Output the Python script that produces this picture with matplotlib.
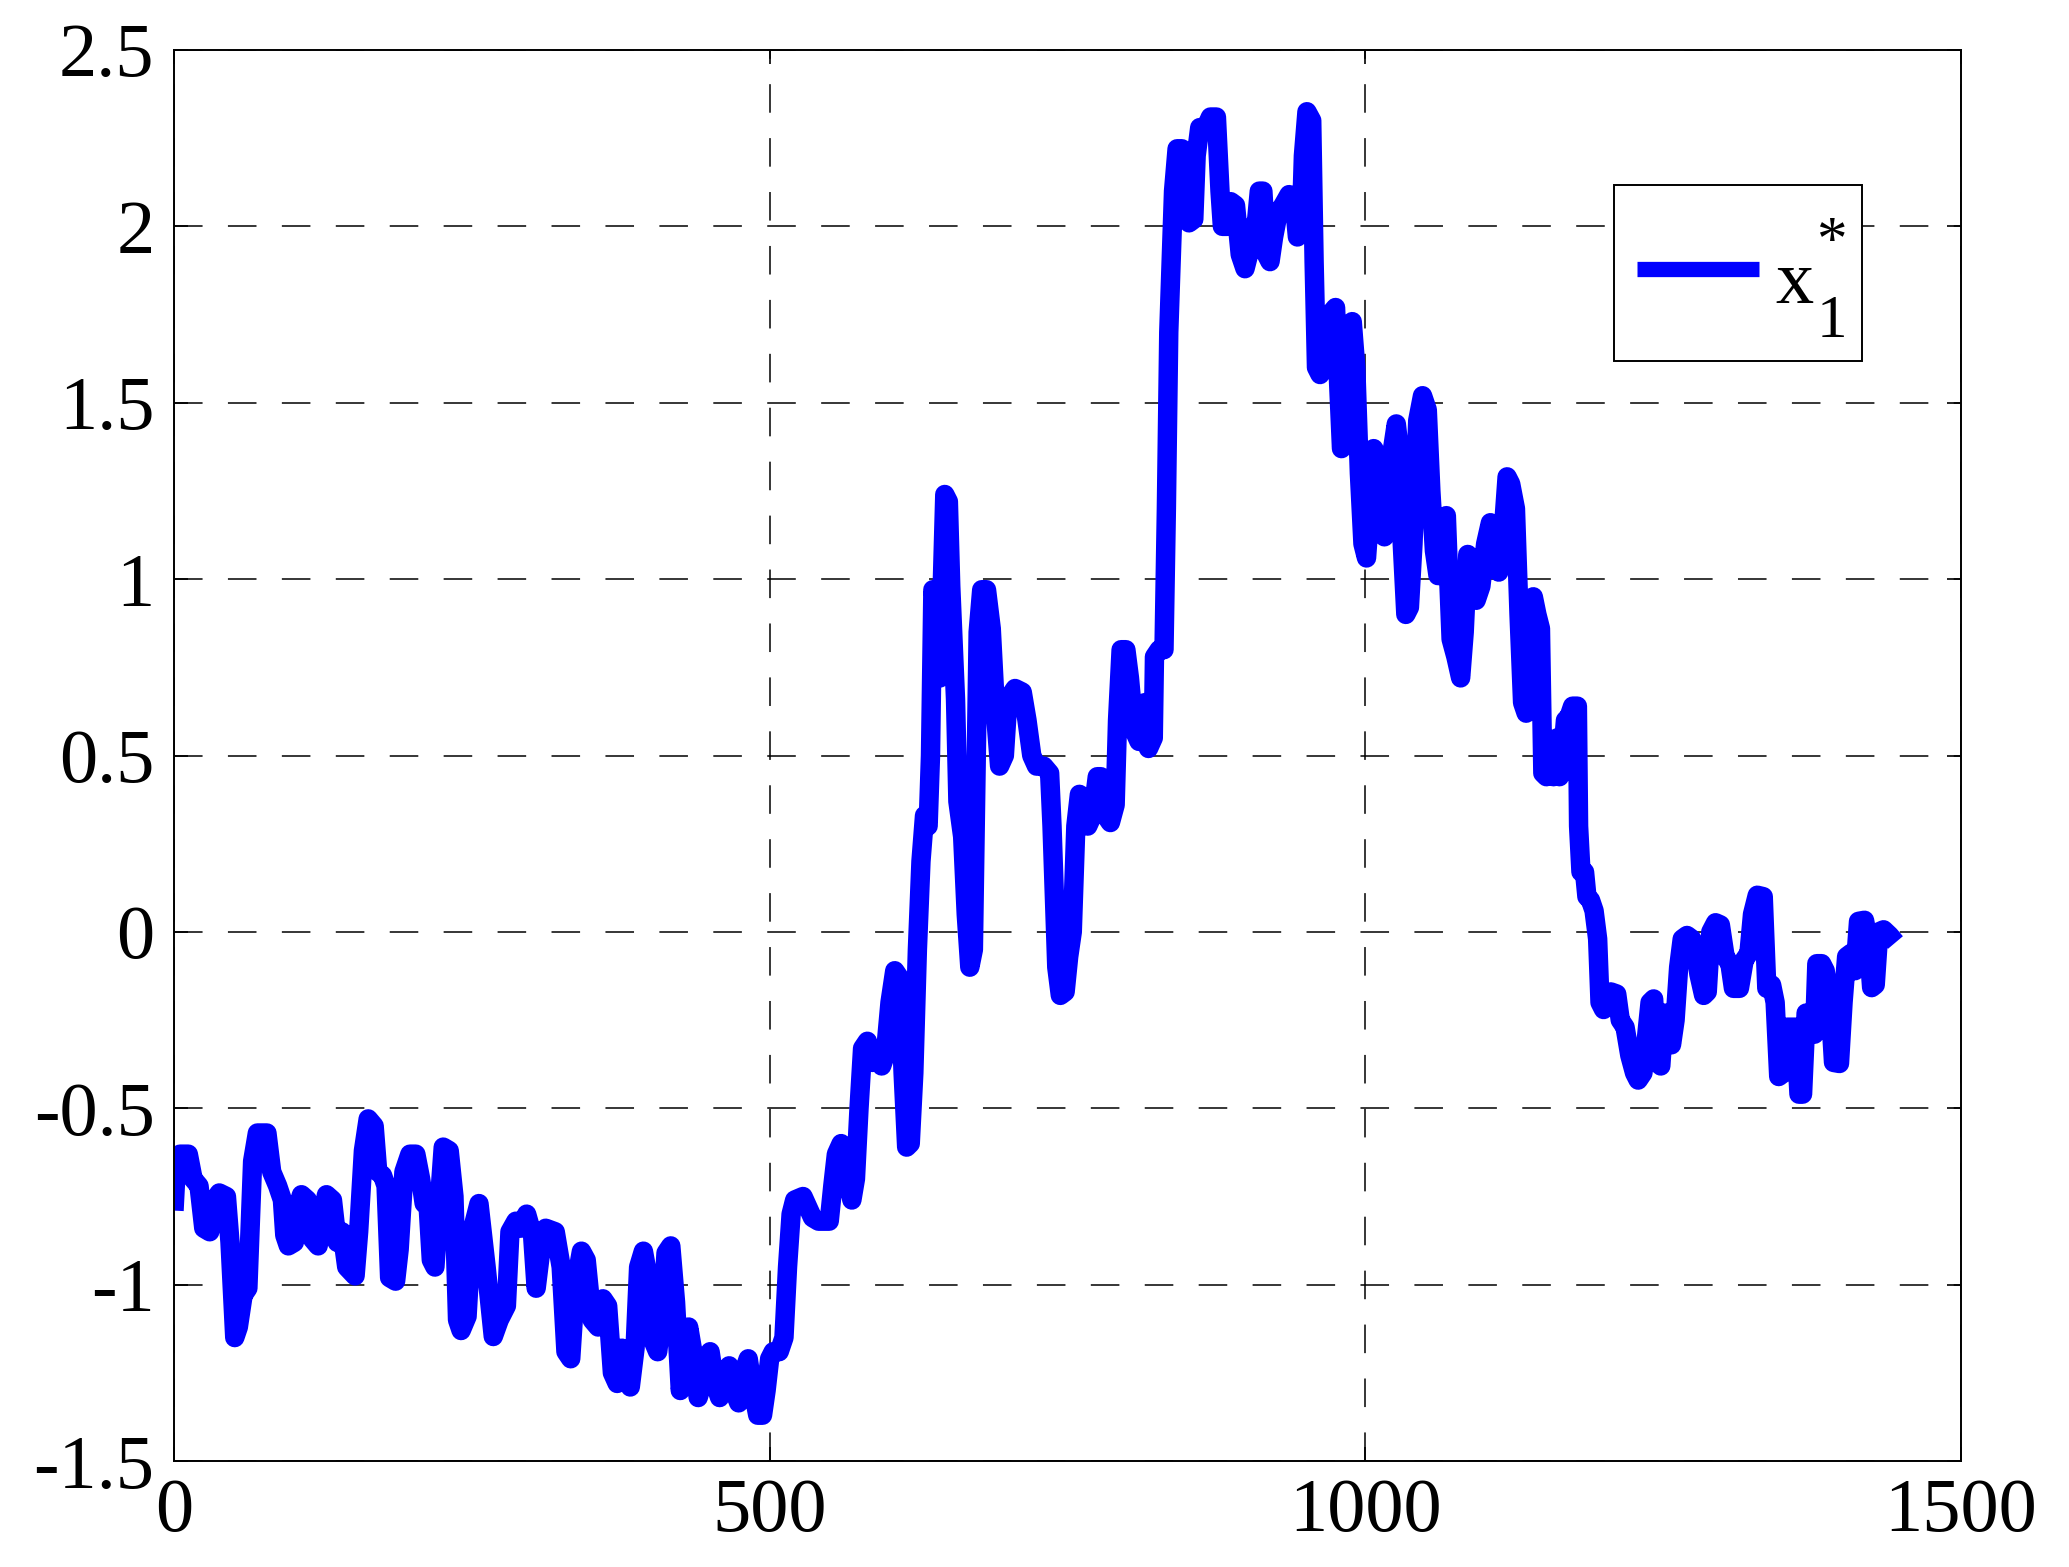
import matplotlib
matplotlib.use("Agg")
import matplotlib.pyplot as plt

# trace
x_pts = [
    0, 2, 5, 12, 16, 21, 25, 30, 34, 38, 44, 47, 51, 54, 58, 62, 66, 70, 78, 82,
    87, 91, 93, 96, 101, 104, 107, 112, 116, 121, 125, 128, 133, 137, 141, 145, 152, 155, 159, 163,
    168, 171, 175, 178, 181, 186, 189, 193, 198, 203, 207, 210, 213, 216, 219, 222, 226, 231, 235, 238,
    241, 246, 250, 256, 262, 268, 273, 279, 282, 287, 291, 296, 301, 304, 308, 312, 320, 325, 329, 333,
    337, 342, 346, 351, 356, 360, 364, 368, 372, 376, 379, 383, 387, 390, 394, 398, 401, 406, 410, 413,
    417, 421, 425, 429, 432, 436, 440, 446, 450, 454, 458, 462, 466, 470, 474, 478, 482, 486, 490, 494,
    497, 500, 503, 508, 512, 515, 518, 521, 528, 532, 536, 541, 546, 550, 553, 556, 560, 564, 569, 572,
    575, 578, 582, 586, 590, 594, 597, 601, 605, 609, 612, 615, 618, 621, 624, 627, 630, 633, 635, 637,
    640, 643, 645, 647, 650, 652, 656, 658, 662, 665, 668, 671, 673, 675, 678, 682, 686, 690, 693, 697,
    700, 706, 712, 716, 720, 724, 730, 735, 737, 739, 741, 744, 748, 751, 754, 757, 760, 764, 767, 771,
    775, 778, 782, 786, 790, 792, 795, 799, 802, 806, 810, 813, 815, 818, 822, 823, 827, 831, 833, 835,
    837, 839, 842, 846, 849, 852, 856, 858, 861, 866, 870, 875, 878, 880, 884, 887, 891, 895, 899, 902,
    905, 908, 911, 914, 917, 920, 923, 927, 931, 936, 940, 943, 946, 948, 951, 955, 957, 959, 962, 966,
    970, 975, 977, 980, 984, 987, 989, 992, 995, 998, 1001, 1004, 1007, 1010, 1013, 1016, 1019, 1022, 1026, 1029,
    1031, 1034, 1037, 1040, 1044, 1048, 1052, 1055, 1058, 1061, 1065, 1068, 1070, 1072, 1076, 1080, 1083, 1086, 1089, 1093,
    1097, 1101, 1105, 1108, 1112, 1115, 1119, 1122, 1126, 1129, 1132, 1135, 1138, 1141, 1144, 1147, 1149, 1152, 1155, 1158,
    1161, 1163, 1166, 1168, 1171, 1174, 1178, 1179, 1181, 1184, 1186, 1189, 1192, 1195, 1197, 1200, 1203, 1206, 1211, 1214,
    1218, 1222, 1226, 1229, 1233, 1236, 1239, 1242, 1245, 1248, 1251, 1254, 1257, 1260, 1263, 1266, 1270, 1274, 1277, 1280,
    1284, 1287, 1290, 1294, 1298, 1302, 1306, 1309, 1314, 1318, 1322, 1325, 1329, 1334, 1337, 1341, 1344, 1347, 1351, 1354,
    1358, 1361, 1364, 1367, 1370, 1374, 1377, 1379, 1383, 1386, 1390, 1393, 1398, 1401, 1404, 1408, 1411, 1414, 1419, 1422,
    1425, 1428, 1431, 1435, 1440, 1445,
]
y_pts = [
    -0.79, -0.66, -0.63, -0.63, -0.70, -0.72, -0.84, -0.85, -0.76, -0.74, -0.75, -0.88, -1.15, -1.12, -1.03, -1.01, -0.65, -0.57, -0.57, -0.68,
    -0.72, -0.76, -0.86, -0.89, -0.88, -0.78, -0.745, -0.76, -0.87, -0.89, -0.80, -0.745, -0.76, -0.88, -0.85, -0.95, -0.975, -0.85, -0.62, -0.53,
    -0.55, -0.68, -0.69, -0.72, -0.98, -0.99, -0.90, -0.68, -0.63, -0.63, -0.70, -0.77, -0.76, -0.93, -0.95, -0.80, -0.61, -0.62, -0.75, -1.10,
    -1.13, -1.09, -0.85, -0.77, -0.95, -1.147, -1.10, -1.06, -0.85, -0.82, -0.84, -0.80, -0.86, -1.01, -0.90, -0.84, -0.85, -0.95, -1.19, -1.21,
    -1.00, -0.905, -0.93, -1.10, -1.12, -1.04, -1.06, -1.25, -1.28, -1.18, -1.23, -1.29, -1.18, -0.95, -0.905, -0.98, -1.15, -1.19, -1.08, -0.91,
    -0.89, -1.05, -1.30, -1.20, -1.12, -1.20, -1.32, -1.25, -1.19, -1.28, -1.32, -1.28, -1.23, -1.30, -1.335, -1.25, -1.21, -1.30, -1.37, -1.37,
    -1.30, -1.21, -1.19, -1.19, -1.15, -0.95, -0.80, -0.76, -0.75, -0.78, -0.81, -0.82, -0.82, -0.82, -0.72, -0.63, -0.60, -0.68, -0.76, -0.70,
    -0.50, -0.33, -0.31, -0.37, -0.36, -0.38, -0.35, -0.20, -0.11, -0.13, -0.40, -0.61, -0.60, -0.40, -0.05, 0.20, 0.33, 0.30, 0.50, 0.97,
    0.90, 0.72, 1.00, 1.24, 1.22, 0.98, 0.66, 0.37, 0.27, 0.05, -0.10, -0.05, 0.40, 0.85, 0.97, 0.97, 0.86, 0.60, 0.47, 0.50,
    0.66, 0.69, 0.68, 0.60, 0.50, 0.47, 0.47, 0.45, 0.30, 0.10, -0.10, -0.18, -0.17, -0.07, 0.00, 0.30, 0.39, 0.38, 0.30, 0.33,
    0.44, 0.44, 0.33, 0.31, 0.36, 0.60, 0.80, 0.80, 0.72, 0.57, 0.54, 0.62, 0.65, 0.52, 0.55, 0.78, 0.80, 0.80, 1.20, 1.70,
    1.90, 2.10, 2.22, 2.22, 2.10, 2.01, 2.02, 2.20, 2.28, 2.28, 2.31, 2.31, 2.10, 2.00, 2.00, 2.07, 2.06, 1.92, 1.88, 1.92,
    2.00, 1.99, 2.10, 2.10, 1.92, 1.90, 1.97, 2.04, 2.06, 2.09, 2.08, 1.97, 1.98, 2.20, 2.325, 2.30, 1.90, 1.60, 1.58, 1.64,
    1.75, 1.77, 1.60, 1.37, 1.45, 1.70, 1.73, 1.60, 1.30, 1.10, 1.06, 1.20, 1.37, 1.35, 1.20, 1.12, 1.20, 1.35, 1.44, 1.35,
    1.10, 0.90, 0.92, 1.10, 1.45, 1.52, 1.48, 1.25, 1.08, 1.01, 1.05, 1.18, 1.00, 0.83, 0.78, 0.72, 0.85, 1.07, 1.00, 0.94,
    0.98, 1.10, 1.16, 1.10, 1.02, 1.10, 1.29, 1.27, 1.20, 0.90, 0.65, 0.62, 0.85, 0.95, 0.90, 0.86, 0.45, 0.44, 0.53, 0.44,
    0.55, 0.44, 0.52, 0.60, 0.61, 0.64, 0.64, 0.30, 0.17, 0.17, 0.10, 0.09, 0.06, -0.02, -0.20, -0.22, -0.20, -0.17, -0.176, -0.25,
    -0.27, -0.35, -0.40, -0.42, -0.40, -0.30, -0.20, -0.19, -0.37, -0.38, -0.23, -0.25, -0.32, -0.25, -0.10, -0.02, -0.01, -0.02, -0.05, -0.12,
    -0.18, -0.17, 0.00, 0.026, 0.02, -0.07, -0.09, -0.16, -0.16, -0.08, -0.06, 0.05, 0.104, 0.10, -0.16, -0.15, -0.20, -0.41, -0.40, -0.27,
    -0.27, -0.27, -0.46, -0.46, -0.23, -0.23, -0.29, -0.09, -0.09, -0.11, -0.20, -0.37, -0.373, -0.20, -0.07, -0.06, -0.11, 0.03, 0.033, -0.02,
    -0.158, -0.15, 0.00, 0.006, -0.01, -0.03,
]

x_ticks = [0, 500, 1000, 1500]
x_tick_labels = ["0", "500", "1000", "1500"]
y_ticks = [-1.5, -1, -0.5, 0, 0.5, 1, 1.5, 2, 2.5]
y_tick_labels = ["-1.5", "-1", "-0.5", "0", "0.5", "1", "1.5", "2", "2.5"]
legend_name = "x"
legend_sub = "1"
legend_sup = "*"

plt.rcParams["font.family"] = ["Liberation Serif", "DejaVu Serif"]

fig = plt.figure(figsize=(20.69, 15.67), dpi=100)
ax = fig.add_axes([0.0841, 0.0676, 0.8637, 0.9005])

ax.plot(x_pts, y_pts, color="#0000ff", lw=14, solid_joinstyle="round",
        solid_capstyle="butt", label=legend_name)

ax.set_xlim(0, 1500)
ax.set_ylim(-1.5, 2.5)
ax.set_xticks(x_ticks, x_tick_labels)
ax.set_yticks(y_ticks, y_tick_labels)
ax.tick_params(direction="in", length=10, width=1.2, top=True, right=True,
               labelsize=55)
ax.tick_params(axis="x", pad=12)
ax.tick_params(axis="y", pad=14)
ax.grid(True, color="black", linestyle=(0, (18.7, 16.6)), linewidth=1.1)
for s in ax.spines.values():
    s.set_linewidth(1.4)

# MATLAB-like legend box: x with a low subscript and a high superscript
leg = ax.legend(loc="upper left", bbox_to_anchor=(0.806, 0.779, 0.1386, 0.1254),
                mode="expand", borderaxespad=0, fontsize=55, frameon=True,
                fancybox=False, edgecolor="black", framealpha=1,
                handlelength=1.6, handletextpad=0.2, borderpad=0.3,
                handleheight=2.25)
leg.get_frame().set_linewidth(1.4)
handle = leg.get_lines()[0]
handle.set_linewidth(11)
handle.set_ydata(handle.get_ydata() - 12)  # centre the sample line in the box
leg.get_texts()[0].set_visible(False)
ax.text(0.8959, 0.8205, legend_name, transform=ax.transAxes, fontsize=55,
        ha="left", va="baseline", zorder=6)
ax.text(0.919, 0.7966, legend_sub, transform=ax.transAxes, fontsize=44,
        ha="left", va="baseline", zorder=6)
ax.text(0.919, 0.8526, legend_sup, transform=ax.transAxes, fontsize=44,
        ha="left", va="baseline", zorder=6)

fig.savefig("out.png", dpi=100)
